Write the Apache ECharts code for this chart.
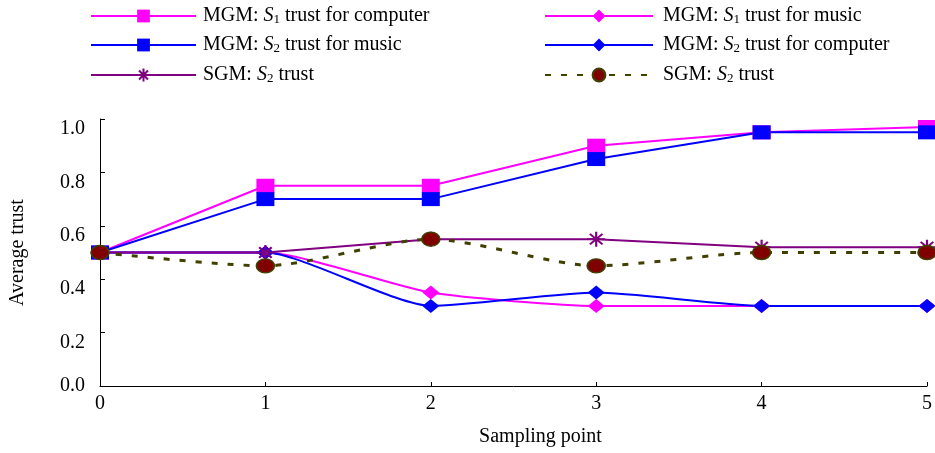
<!DOCTYPE html>
<html>
<head>
<meta charset="utf-8">
<script src="https://cdn.jsdelivr.net/npm/echarts@6/dist/echarts.min.js"></script>
<style>
html,body{margin:0;padding:0;background:#fff;}
#chart{width:935px;height:453px;}
</style>
</head>
<body>
<div id="chart"></div>
<script>
// ---- data ----
const categories = ['0', '1', '2', '3', '4', '5'];
const s1Computer = [0.50, 0.75, 0.75, 0.90, 0.95, 0.97];   // MGM: S1 trust for computer
const s1Music    = [0.50, 0.50, 0.35, 0.30, 0.30, 0.30];   // MGM: S1 trust for music
const s2Music    = [0.50, 0.70, 0.70, 0.85, 0.95, 0.95];   // MGM: S2 trust for music
const s2Computer = [0.50, 0.50, 0.30, 0.35, 0.30, 0.30];   // MGM: S2 trust for computer
const sgmStar    = [0.50, 0.50, 0.55, 0.55, 0.52, 0.52];   // SGM: S2 trust (star)
const sgmCircle  = [0.50, 0.45, 0.55, 0.45, 0.50, 0.50];   // SGM: S2 trust (dashed)
const yTicks = [0.0, 0.2, 0.4, 0.6, 0.8, 1.0];

const legendLabels = {
  s1c: '{n|MGM: }{i|S}{s|1}{n| trust for computer}',
  s1m: '{n|MGM: }{i|S}{s|1}{n| trust for music}',
  s2m: '{n|MGM: }{i|S}{s|2}{n| trust for music}',
  s2c: '{n|MGM: }{i|S}{s|2}{n| trust for computer}',
  sgA: '{n|SGM: }{i|S}{s|2}{n| trust}',
  sgB: '{n|SGM: }{i|S}{s|2}{n| trust}'
};

const FONT = 'Liberation Serif';
const rich = {
  n: {fontFamily: FONT, fontSize: 20, color: '#000'},
  i: {fontFamily: FONT, fontSize: 20, fontStyle: 'italic', color: '#000'},
  s: {fontFamily: FONT, fontSize: 13, color: '#000', verticalAlign: 'bottom', padding: [7, 0, 0, 0]}
};

function mkLegend(name, left, top, w, pad) {
  return {
    data: [name], left: left, top: top, orient: 'horizontal',
    itemWidth: w, itemHeight: 16, itemGap: 0,
    formatter: n => legendLabels[n],
    textStyle: {fontFamily: FONT, fontSize: 20, color: '#000', rich: rich, padding: [0, 0, 0, pad]},
    selectedMode: false
  };
}

const starPath = 'path://M10,0L10,20M0,10L20,10M3,3L17,17M3,17L17,3';
const ellipsePath = 'path://M0,10A10,10,0,1,1,20,10A10,10,0,1,1,0,10Z';

const chart = echarts.init(document.getElementById('chart'), null, {renderer: 'canvas'});
chart.setOption({
  animation: false,
  backgroundColor: '#fff',
  legend: [
    mkLegend('s1c', 85, 1, 105, 2),
    mkLegend('s2m', 85, 30, 105, 2),
    mkLegend('sgA', 85, 60, 105, 2),
    mkLegend('s1m', 539, 1, 108, 5),
    mkLegend('s2c', 539, 30, 108, 5),
    mkLegend('sgB', 539, 60, 108, 5)
  ],
  grid: {left: 97, right: 6, top: 119, bottom: 67, containLabel: false},
  xAxis: {
    type: 'category', data: categories, boundaryGap: false,
    name: 'Sampling point', nameLocation: 'middle', nameGap: 41,
    nameTextStyle: {fontFamily: FONT, fontSize: 20, color: '#000', padding: [0, 0, 0, 54]},
    axisLine: {lineStyle: {color: '#000', width: 1}},
    axisTick: {inside: true, length: 4, lineStyle: {color: '#000'}},
    axisLabel: {fontFamily: FONT, fontSize: 20, color: '#000', margin: 8},
    splitLine: {show: false}
  },
  yAxis: {
    type: 'value', min: 0, max: 1, interval: 0.2,
    name: 'Average trust', nameLocation: 'middle', nameGap: 72,
    nameTextStyle: {fontFamily: FONT, fontSize: 20, color: '#000'},
    axisLine: {show: true, lineStyle: {color: '#000', width: 1}},
    axisTick: {show: true, inside: true, length: 5, lineStyle: {color: '#000'}},
    axisLabel: {
      fontFamily: FONT, fontSize: 20, color: '#000', margin: 15,
      formatter: v => {
        const t = yTicks.find(k => Math.abs(k - v) < 1e-9);
        const s = (t !== undefined ? t : v).toFixed(1);
        return v === 0 ? '{a|' + s + '}' : '{b|' + s + '}';
      },
      rich: {
        a: {fontFamily: FONT, fontSize: 20, color: '#000'},
        b: {fontFamily: FONT, fontSize: 20, color: '#000', padding: [20, 0, 0, 0]}
      }
    },
    splitLine: {show: false}
  },
  series: [
    {
      name: 's1c', type: 'line', data: s1Computer,
      symbol: 'rect', symbolSize: [18, 14],
      lineStyle: {color: '#ff00ff', width: 2},
      itemStyle: {color: '#ff00ff'}
    },
    {
      name: 's1m', type: 'line', data: s1Music, smooth: 0.2,
      symbol: 'diamond', symbolSize: [17, 14],
      lineStyle: {color: '#ff00ff', width: 2},
      itemStyle: {color: '#ff00ff'}
    },
    {
      name: 's2m', type: 'line', data: s2Music,
      symbol: 'rect', symbolSize: [18, 14],
      lineStyle: {color: '#0000ff', width: 2},
      itemStyle: {color: '#0000ff'}
    },
    {
      name: 's2c', type: 'line', data: s2Computer, smooth: 0.2,
      symbol: 'diamond', symbolSize: [17, 14],
      lineStyle: {color: '#0000ff', width: 2},
      itemStyle: {color: '#0000ff'}
    },
    {
      name: 'sgA', type: 'line', data: sgmStar,
      symbol: starPath, symbolSize: [18, 15],
      lineStyle: {color: '#800080', width: 2},
      itemStyle: {color: '#800080', borderColor: '#800080', borderWidth: 2}
    },
    {
      name: 'sgB', type: 'line', data: sgmCircle, smooth: 0.25,
      symbol: ellipsePath, symbolSize: [18, 14],
      lineStyle: {color: '#404000', width: 3, type: [6, 10]},
      itemStyle: {color: '#800000', borderColor: '#404000', borderWidth: 1.5}
    }
  ]
});
</script>
</body>
</html>
